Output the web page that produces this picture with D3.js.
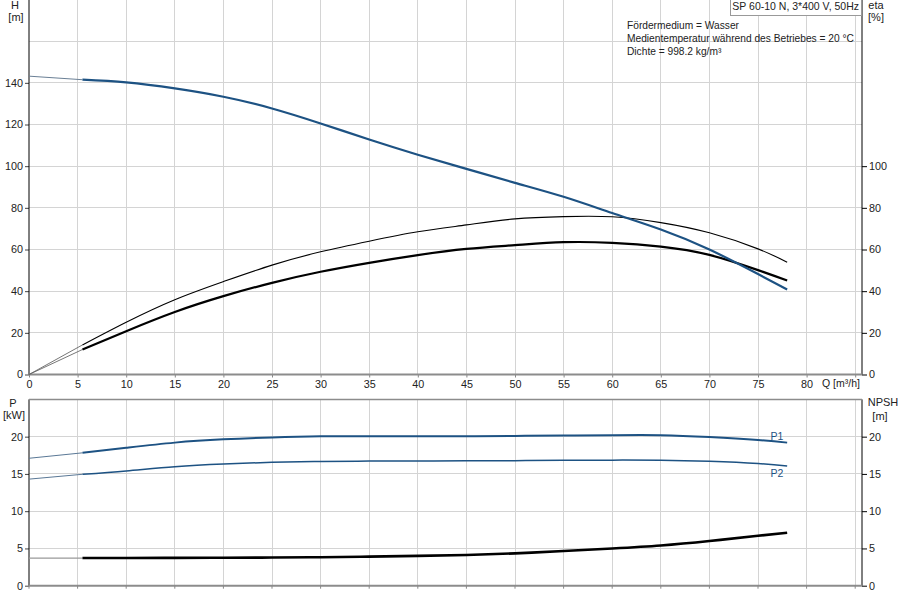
<!DOCTYPE html>
<html><head><meta charset="utf-8">
<script src="https://cdn.jsdelivr.net/npm/d3@7"></script>
<style>
body{margin:0;background:#fff;}
svg{font-family:"Liberation Sans",Arial,sans-serif;}
</style></head>
<body><svg id="c" width="900" height="600"></svg>
<script>
// ---- data ----
const Q        = [0, 5.5, 10, 15, 20, 25, 30, 35, 40, 45, 50, 55, 60, 65, 70, 75, 78];
const headH    = [143.2, 141.5, 140.2, 137.3, 133.3, 127.7, 120.5, 112.8, 105.5, 98.7, 92.0, 85.3, 77.5, 69.6, 60.0, 48.2, 40.8];
const etaPump  = [0, 14.2, 25.1, 35.9, 44.6, 52.5, 58.9, 64.0, 68.5, 71.8, 74.7, 75.8, 75.7, 72.9, 68.0, 60.3, 53.9];
const etaTotal = [0, 12.0, 20.8, 30.0, 37.6, 44.0, 49.3, 53.6, 57.3, 60.3, 62.1, 63.5, 63.2, 61.4, 57.4, 50.1, 45.1];
const powerP1  = [17.1, 17.83, 18.5, 19.2, 19.64, 19.9, 20.04, 20.05, 20.05, 20.05, 20.1, 20.15, 20.2, 20.2, 19.95, 19.55, 19.2];
const powerP2  = [14.3, 14.95, 15.4, 15.97, 16.33, 16.55, 16.68, 16.72, 16.74, 16.76, 16.78, 16.82, 16.85, 16.85, 16.7, 16.4, 16.06];
const npsh     = [3.7, 3.71, 3.72, 3.73, 3.75, 3.78, 3.82, 3.9, 4.0, 4.12, 4.34, 4.65, 5.0, 5.4, 6.0, 6.7, 7.1];
const xTicks   = [0, 5, 10, 15, 20, 25, 30, 35, 40, 45, 50, 55, 60, 65, 70, 75, 80];
const hTicks   = [0, 20, 40, 60, 80, 100, 120, 140];
const etaTicks = [0, 20, 40, 60, 80, 100];
const pTicks   = [0, 5, 10, 15, 20];
const npshTicks= [0, 5, 10, 15, 20];
const titleText = "SP 60-10 N, 3*400 V, 50Hz";
const infoLines = ["Fördermedium = Wasser", "Medientemperatur während des Betriebes = 20 °C", "Dichte = 998.2 kg/m³"];
const qStart = 5.5; // begin of operating range (thick lines)

// ---- layout ----
const svg = d3.select("#c");
const L = 29, R = 862;
const x = d3.scaleLinear().domain([0, (R - L) / 9.72]).range([L, R]);
const yT = d3.scaleLinear().domain([0, 180]).range([374.5, -0.5]);
const yB = d3.scaleLinear().domain([0, 25]).range([585.7, 399.4]);
const gridC = "#d4d4d4", blue = "#1d5283";

function grid(y, yvals, top, bottom) {
  const g = svg.append("g");
  d3.range(5, 86, 5).forEach(v => g.append("line").attr("x1", x(v)).attr("x2", x(v)).attr("y1", top).attr("y2", bottom)
    .attr("stroke", gridC).attr("stroke-width", 1).attr("shape-rendering","crispEdges"));
  yvals.forEach(v => g.append("line").attr("x1", L).attr("x2", R).attr("y1", y(v)).attr("y2", y(v))
    .attr("stroke", gridC).attr("stroke-width", 1).attr("shape-rendering","crispEdges"));
}
grid(yT, d3.range(20, 181, 20), 0, yT(0));
grid(yB, d3.range(5, 21, 5), yB(25), yB(0));

// axes
function leftAxis(y, ticks, yr) {
  const g = svg.append("g").attr("transform", `translate(${L},0)`)
    .call(d3.axisLeft(y).tickValues(ticks).tickSize(4).tickPadding(2).tickFormat(d3.format("d")));
  g.select(".domain").remove();
  g.append("line").attr("x1",0).attr("x2",0).attr("y1",yr[0]).attr("y2",yr[1]).attr("stroke","#000");
  g.selectAll("text").attr("font-size", 10.8).attr("fill", "#222").attr("font-family","Liberation Sans, Arial, sans-serif");
  g.selectAll(".tick line").attr("stroke","#444");
}
function rightAxis(y, ticks, yr) {
  const g = svg.append("g").attr("transform", `translate(${R},0)`)
    .call(d3.axisRight(y).tickValues(ticks).tickSize(5).tickPadding(2).tickFormat(d3.format("d")));
  g.select(".domain").remove();
  g.append("line").attr("x1",0).attr("x2",0).attr("y1",yr[0]).attr("y2",yr[1]).attr("stroke","#000");
  g.selectAll("text").attr("font-size", 10.8).attr("fill", "#222").attr("font-family","Liberation Sans, Arial, sans-serif");
  g.selectAll(".tick line").attr("stroke","#000");
}
leftAxis(yT, hTicks, [0, yT(0)]);
rightAxis(yT, etaTicks, [0, yT(0)]);
leftAxis(yB, pTicks, [yB(25), yB(0)]);
rightAxis(yB, npshTicks, [yB(25), yB(0)]);

// x axis (top panel)
const gx = svg.append("g").attr("transform", `translate(0,${yT(0)})`)
  .call(d3.axisBottom(x).tickValues(xTicks.concat([85])).tickSize(3).tickPadding(3).tickFormat(d => d === 85 ? "" : d));
gx.select(".domain").remove();
gx.selectAll("text").attr("font-size", 10.8).attr("fill", "#222").attr("font-family","Liberation Sans, Arial, sans-serif");
gx.selectAll(".tick line").attr("stroke","#888");
svg.append("line").attr("x1", L).attr("x2", R).attr("y1", yT(0)).attr("y2", yT(0)).attr("stroke", "#8c8c8c").attr("stroke-width", 2);
// bottom panel frame lines
svg.append("line").attr("x1", L).attr("x2", R).attr("y1", yB(25)).attr("y2", yB(25)).attr("stroke", "#8c8c8c").attr("stroke-width", 1.5);
svg.append("line").attr("x1", L).attr("x2", R).attr("y1", yB(0)).attr("y2", yB(0)).attr("stroke", "#8c8c8c").attr("stroke-width", 2);
d3.range(0, 86, 5).forEach(v => svg.append("line").attr("x1", x(v)).attr("x2", x(v)).attr("y1", yB(0)).attr("y2", yB(0)+3).attr("stroke","#888"));

// ---- curves ----
function drawCurve(y, vals, color, wThick, thinColor, thinW) {
  const pts = Q.map((q, i) => [q, vals[i]]);
  const line = d3.line().x(d => x(d[0])).y(d => y(d[1])).curve(d3.curveNatural);
  const pre = pts.filter(d => d[0] <= qStart);
  const main = pts.filter(d => d[0] >= qStart);
  svg.append("path").attr("d", line(pre)).attr("fill", "none").attr("stroke", thinColor).attr("stroke-width", thinW);
  svg.append("path").attr("d", line(main)).attr("fill", "none").attr("stroke", color).attr("stroke-width", wThick)
    .attr("stroke-linecap","butt");
}
drawCurve(yT, etaPump, "#000", 1.1, "#666", 0.9);
drawCurve(yT, etaTotal, "#000", 2.2, "#666", 0.9);
drawCurve(yT, headH, blue, 2.2, "#6a7f95", 1);
drawCurve(yB, powerP1, blue, 2, "#5a7896", 1);
drawCurve(yB, powerP2, blue, 1.5, "#5a7896", 1);
drawCurve(yB, npsh, "#000", 2.6, "#999", 1.2);

// ---- texts ----
function txt(t, xx, yy, anchor, size, color) {
  svg.append("text").attr("x", xx).attr("y", yy).attr("text-anchor", anchor || "start")
    .attr("font-size", size || 11).attr("fill", color || "#222").attr("dominant-baseline", "middle").text(t);
}
txt("H", 15, 6.5, "middle"); txt("[m]", 16, 18.5, "middle");
txt("eta", 876, 6.5, "middle"); txt("[%]", 876, 18, "middle");
txt("P", 13, 404, "middle"); txt("[kW]", 14, 416, "middle");
txt("NPSH", 883, 403, "middle"); txt("[m]", 880, 417, "middle");
txt("Q [m³/h]", 822, 384, "start", 10.5);
txt("P1", 777, 437, "middle", 10.5, blue);
txt("P2", 777, 474, "middle", 10.5, blue);

// title box
svg.append("rect").attr("x", 730.5).attr("y", -1).attr("width", 131).attr("height", 16.5)
  .attr("fill", "#fff").attr("stroke", "#999");
txt(titleText, 859, 7.5, "end", 10.5);
infoLines.forEach((t, i) => txt(t, 627, 26.5 + i * 12.8, "start", 10.2));
</script></body></html>
